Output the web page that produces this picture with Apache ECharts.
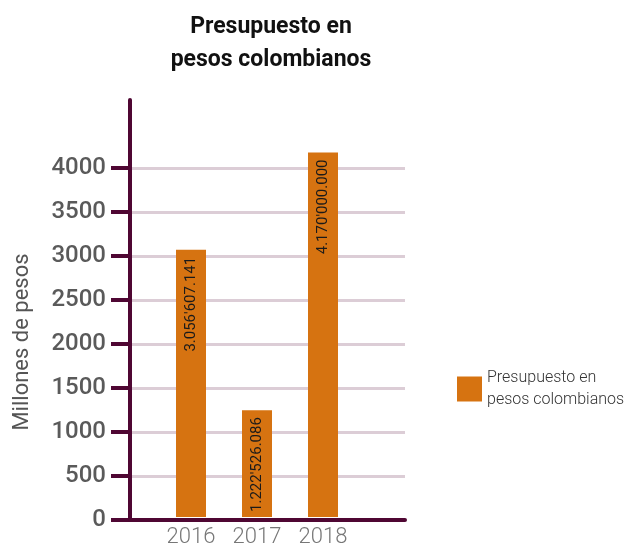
<!DOCTYPE html>
<html><head><meta charset="utf-8">
<script src="https://cdn.jsdelivr.net/npm/echarts@6/dist/echarts.min.js"></script>
<style>html,body{margin:0;padding:0;background:#fff}#c{width:626px;height:548px}</style>
</head><body><div id="c"></div>
<script>
const categories = ['2016', '2017', '2018'];
const budgetPesos = [3056607141, 1222526086, 4170000000];
const yTicks = [0, 500, 1000, 1500, 2000, 2500, 3000, 3500, 4000];
const seriesName = 'Presupuesto en\npesos colombianos';

const values = budgetPesos.map(v => v / 1e6);
function fmtPesos(v) {
  const s = String(Math.round(v));
  const groups = [];
  for (let i = s.length; i > 0; i -= 3) groups.unshift(s.slice(Math.max(0, i - 3), i));
  let out = groups[0];
  for (let i = 1; i < groups.length; i++) {
    const fromEnd = groups.length - i;
    out += (fromEnd === 2 ? "'" : '.') + groups[i];
  }
  return out;
}
const MAROON = '#4f0733';
const chart = echarts.init(document.getElementById('c'));
chart.setOption({
  animation: false,
  title: {
    text: 'Presupuesto en\npesos colombianos',
    left: 266, textAlign: 'center', top: 6,
    textStyle: { fontFamily: 'Roboto', fontWeight: 'bold', fontSize: 23, lineHeight: 33, color: '#111' }
  },
  legend: {
    left: 452, top: 352, orient: 'vertical',
    itemWidth: 25, itemHeight: 25, icon: 'rect',
    data: [seriesName],
    textStyle: { fontFamily: 'Roboto', fontWeight: 300, fontSize: 16, lineHeight: 22, color: '#333', padding: [20, 0, 0, 0] }
  },
  grid: [
    { left: 130, right: 221, top: 100, bottom: 28 },
    { left: 158, width: 198, top: 100, bottom: 28 }
  ],
  xAxis: [
    { type: 'category', gridIndex: 0, data: [''], z: 5,
      axisLine: { show: true, lineStyle: { color: MAROON, width: 4 } },
      axisTick: { show: false }, axisLabel: { show: false }, splitLine: { show: false } },
    { type: 'category', gridIndex: 1, data: categories,
      axisLine: { show: false }, axisTick: { show: false },
      axisLabel: { fontFamily: 'Roboto', fontWeight: 300, fontSize: 22, color: '#777', margin: 9 } }
  ],
  yAxis: [
    { type: 'value', gridIndex: 0, min: 0, max: 4770,
      name: 'Millones de pesos', nameLocation: 'middle', nameGap: 97, nameRotate: 90,
      nameTextStyle: { fontFamily: 'Roboto', fontSize: 22, color: '#555', padding: [0, 64, 0, 0] },
      axisLine: { show: true, lineStyle: { color: MAROON, width: 4, cap: 'round' } },
      axisTick: { show: true, length: 19, customValues: yTicks, lineStyle: { color: MAROON, width: 4 } },
      axisLabel: { customValues: yTicks, margin: 24, fontFamily: 'Roboto', fontWeight: 500, fontSize: 24, color: '#5a5a5a',
        formatter: v => String(v) },
      splitLine: { show: true, lineStyle: { color: '#dccdd6', width: 3 } } },
    { type: 'value', gridIndex: 1, min: 0, max: 4770, show: false }
  ],
  series: [{
    name: seriesName, type: 'bar', xAxisIndex: 1, yAxisIndex: 1, z: 3,
    data: values, barWidth: 30, itemStyle: { color: '#d67311' },
    label: {
      show: true, position: 'insideTop', rotate: 90, align: 'right', verticalAlign: 'middle', distance: 7,
      fontFamily: 'Roboto', fontWeight: 'normal', fontSize: 15, color: '#1a1a1a',
      formatter: p => fmtPesos(budgetPesos[p.dataIndex])
    }
  }]
});
</script></body></html>
